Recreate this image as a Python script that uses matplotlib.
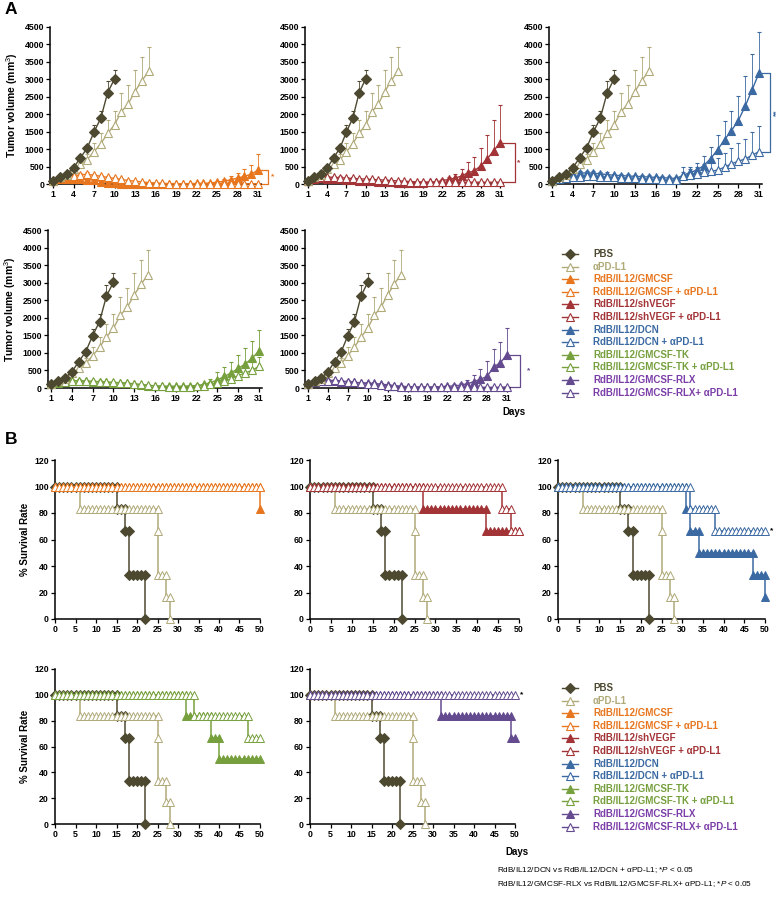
import matplotlib
matplotlib.use('Agg')
import matplotlib.pyplot as plt
from matplotlib.lines import Line2D
import numpy as np

plt.rcParams['font.family'] = ['Liberation Sans', 'DejaVu Sans']
plt.rcParams['mathtext.fontset'] = 'custom'
plt.rcParams['mathtext.rm'] = 'Liberation Sans'
plt.rcParams['mathtext.it'] = 'Liberation Sans:italic'

# ---------------- data : tumor volume (panel A) ----------------
days_pbs = list(range(1, 11))
pbs_vol = [100, 210, 290, 460, 750, 1030, 1490, 1890, 2620, 3010]
pbs_err = [20, 30, 40, 60, 90, 90, 190, 210, 320, 270]

days_pdl1 = list(range(1, 16))
pdl1_vol = [100, 190, 270, 420, 560, 700, 920, 1160, 1450, 1700, 2070, 2300, 2650, 2960, 3230]
pdl1_err = [20, 30, 50, 70, 100, 150, 250, 290, 380, 400, 530, 550, 620, 690, 700]

days_tx = list(range(1, 32))
gm_vol = [100, 140, 150, 140, 130, 120, 110, 70, 40, 20, 10, 5, 5, 5, 5, 5, 5, 5, 5, 5,
          10, 15, 20, 30, 50, 80, 120, 170, 220, 280, 400]
gm_err = [20, 30, 30, 30, 30, 30, 30, 20, 10, 10, 5, 5, 5, 5, 5, 5, 5, 5, 5, 5,
          5, 10, 15, 20, 40, 60, 100, 150, 210, 270, 460]
gmp_vol = [100, 180, 220, 240, 260, 280, 250, 220, 190, 160, 130, 100, 80, 60, 40, 30, 20, 10, 10, 5,
           5, 5, 5, 5, 5, 5, 5, 5, 5, 5, 10]
gmp_err = [20, 30, 40, 40, 50, 50, 50, 40, 40, 30, 30, 20, 20, 10, 10, 10, 5, 5, 5, 5,
           5, 5, 5, 5, 5, 5, 5, 5, 5, 5, 10]

sh_vol = [100, 150, 160, 150, 140, 130, 120, 110, 100, 90, 80, 70, 60, 50, 40, 40, 40, 40, 40, 50,
          60, 100, 130, 170, 230, 320, 380, 520, 720, 950, 1180]
sh_err = [20, 30, 30, 30, 30, 30, 30, 30, 30, 30, 20, 20, 20, 20, 20, 20, 20, 20, 20, 30,
          40, 50, 80, 120, 200, 300, 380, 500, 680, 880, 1090]
shp_vol = [100, 170, 200, 200, 190, 180, 170, 160, 150, 140, 130, 120, 110, 100, 90, 80, 70, 60, 60, 50,
           50, 50, 50, 50, 50, 50, 50, 50, 50, 50, 50]
shp_err = [20, 30, 40, 40, 40, 40, 40, 30, 30, 30, 30, 30, 20, 20, 20, 20, 20, 20, 20, 20,
           20, 20, 20, 20, 20, 20, 20, 20, 20, 20, 20]

dcn_vol = [100, 200, 250, 290, 310, 320, 310, 290, 270, 250, 240, 230, 220, 210, 200, 190, 180, 170, 160, 250,
           330, 400, 530, 730, 980, 1270, 1530, 1820, 2230, 2700, 3180]
dcn_err = [20, 40, 50, 60, 60, 60, 60, 60, 60, 50, 50, 50, 50, 50, 50, 50, 50, 50, 50, 100,
           150, 200, 270, 320, 420, 550, 570, 710, 870, 1020, 1190]
dcnp_vol = [100, 150, 180, 200, 210, 220, 220, 210, 200, 190, 180, 170, 160, 150, 140, 130, 120, 110, 110, 230,
            260, 290, 330, 360, 400, 480, 580, 650, 720, 820, 930]
dcnp_err = [20, 30, 40, 40, 40, 40, 40, 40, 40, 40, 40, 40, 40, 40, 40, 40, 40, 40, 40, 250,
            180, 200, 250, 300, 350, 400, 450, 520, 580, 660, 720]

tk_vol = [100, 150, 200, 210, 200, 190, 180, 170, 160, 150, 140, 130, 110, 90, 70, 60, 50, 50, 50, 50,
          60, 70, 100, 150, 230, 330, 430, 560, 680, 850, 1050]
tk_err = [20, 30, 40, 40, 40, 40, 40, 40, 40, 30, 30, 30, 30, 20, 20, 20, 20, 20, 20, 20,
          20, 30, 50, 100, 220, 270, 320, 370, 450, 500, 590]
tkp_vol = [100, 160, 180, 200, 210, 200, 190, 180, 170, 160, 150, 140, 120, 100, 80, 60, 50, 40, 40, 40,
           40, 50, 70, 100, 150, 200, 260, 350, 430, 500, 620]
tkp_err = [20, 30, 40, 40, 40, 40, 40, 40, 40, 30, 30, 30, 30, 20, 20, 20, 20, 20, 20, 20,
           20, 30, 40, 60, 80, 100, 130, 160, 200, 230, 260]

rlx_vol = [100, 200, 210, 200, 190, 180, 170, 160, 150, 140, 130, 110, 90, 70, 50, 40, 30, 30, 30, 30,
           40, 50, 60, 80, 120, 180, 250, 330, 600, 720, 950]
rlx_err = [20, 30, 40, 40, 40, 40, 40, 40, 30, 30, 30, 30, 20, 20, 20, 20, 20, 20, 20, 20,
           20, 30, 40, 60, 100, 200, 300, 430, 500, 580, 750]
rlxp_vol = [100, 170, 200, 210, 220, 200, 180, 160, 140, 120, 100, 80, 60, 50, 40, 30, 20, 20, 20, 20,
            20, 20, 20, 20, 20, 20, 20, 20, 20, 20, 30]
rlxp_err = [20, 30, 40, 40, 40, 40, 40, 30, 30, 30, 30, 20, 20, 20, 20, 10, 10, 10, 10, 10,
            10, 10, 10, 10, 10, 10, 10, 10, 10, 10, 20]

tumor_xticks = [1, 4, 7, 10, 13, 16, 19, 22, 25, 28, 31]
tumor_yticks = [0, 500, 1000, 1500, 2000, 2500, 3000, 3500, 4000, 4500]

# ---------------- data : survival (panel B) ----------------
# (days at which survival drops, successive survival levels %, last day observed)
surv_pbs = ([15, 17, 18, 22], [100, 83.3, 66.7, 33.3, 0], 22)
surv_pdl1 = ([6, 25, 25, 27, 28], [100, 83.3, 66.7, 33.3, 16.7, 0], 28)
surv_gm = ([50], [100, 83.3], 50)
surv_gmp = ([], [100], 50)
surv_sh = ([27, 42], [100, 83.3, 66.7], 50)
surv_shp = ([46, 48], [100, 83.3, 66.7], 50)
surv_dcn = ([31, 32, 34, 47, 50], [100, 83.3, 66.7, 50, 33.3, 16.7], 50)
surv_dcnp = ([32, 38], [100, 83.3, 66.7], 50)
surv_tk = ([32, 38, 40], [100, 83.3, 66.7, 50], 50)
surv_tkp = ([34, 47], [100, 83.3, 66.7], 50)
surv_rlx = ([32, 49], [100, 83.3, 66.7], 50)
surv_rlxp = ([], [100], 50)

surv_xticks = [0, 5, 10, 15, 20, 25, 30, 35, 40, 45, 50]
surv_yticks = [0, 20, 40, 60, 80, 100, 120]

legend_labels = ['PBS', 'αPD-L1', 'RdB/IL12/GMCSF', 'RdB/IL12/GMCSF + αPD-L1',
                 'RdB/IL12/shVEGF', 'RdB/IL12/shVEGF + αPD-L1', 'RdB/IL12/DCN',
                 'RdB/IL12/DCN + αPD-L1', 'RdB/IL12/GMCSF-TK', 'RdB/IL12/GMCSF-TK + αPD-L1',
                 'RdB/IL12/GMCSF-RLX', 'RdB/IL12/GMCSF-RLX+ αPD-L1']

footnotes = ['RdB/IL12/DCN vs RdB/IL12/DCN + αPD-L1; *$\\it{P}$ < 0.05',
             'RdB/IL12/GMCSF-RLX vs RdB/IL12/GMCSF-RLX+ αPD-L1; *$\\it{P}$ < 0.05']

# ---------------- styles ----------------
C_PBS = '#4d4930'
C_PDL1 = '#b0a978'
C_GM = '#e8761e'
C_SH = '#a23336'
C_DCN = '#3b69a2'
C_TK = '#76a03d'
C_RLX = '#644a8e'
TXT_RLX = '#7b3ea8'

legend_colors = [C_PBS, C_PDL1, C_GM, C_GM, C_SH, C_SH, C_DCN, C_DCN, C_TK, C_TK, C_RLX, C_RLX]
legend_text_colors = [C_PBS, C_PDL1, C_GM, C_GM, C_SH, C_SH, C_DCN, C_DCN, C_TK, C_TK, TXT_RLX, TXT_RLX]
legend_markers = ['D', '^'] + ['^'] * 10
legend_filled = [True, False] + [True, False] * 5

W, H = 778, 902
fig = plt.figure(figsize=(W / 100, H / 100), dpi=100)


def add_ax(left, right, top, bottom):
    return fig.add_axes([left / W, 1 - bottom / H, (right - left) / W, (bottom - top) / H])


def style_ax(ax, xticks, yticks):
    for s in ['top', 'right']:
        ax.spines[s].set_visible(False)
    for s in ['left', 'bottom']:
        ax.spines[s].set_linewidth(1.1)
    ax.set_xticks(xticks)
    ax.set_yticks(yticks)
    ax.tick_params(axis='both', length=3, width=0.9, pad=1.5, labelsize=6.3)
    for lab in ax.get_xticklabels() + ax.get_yticklabels():
        lab.set_fontweight('bold')


def tumor_line(ax, days, vals, errs, color, filled, marker='^', ms=6.0):
    ax.errorbar(days, vals, yerr=[np.zeros(len(errs)), errs], color=color, lw=1.0,
                elinewidth=0.6, capsize=1.3, capthick=0.6, marker=marker, ms=ms,
                mfc=color if filled else 'white', mec=color, mew=0.8, clip_on=False, zorder=3)


def bracket(ax, x0, x1, ytop, ybot, color, label, xs, rot=0, fs=6):
    ax.plot([x0, x1, x1, x0], [ytop, ytop, ybot, ybot], color=color, lw=0.9, clip_on=False)
    ax.text(xs, (ytop + ybot) / 2, label, color=color, fontsize=fs, fontweight='bold',
            ha='center', va='center', rotation=rot, clip_on=False)


def tumor_axes(p1, p31, top, bottom):
    s = (p31 - p1) / 30.0
    ax = add_ax(p1 - 0.4 * s, p31 + 0.5 * s, top, bottom)
    ax.set_xlim(0.6, 31.5)
    ax.set_ylim(0, 4500)
    style_ax(ax, tumor_xticks, tumor_yticks)
    return ax


def tumor_panel(ax, filled_vals, filled_err, open_vals, open_err, color):
    tumor_line(ax, days_tx, filled_vals, filled_err, color, True)
    tumor_line(ax, days_tx, open_vals, open_err, color, False)
    tumor_line(ax, days_pdl1, pdl1_vol, pdl1_err, C_PDL1, False)
    tumor_line(ax, days_pbs, pbs_vol, pbs_err, C_PBS, True, marker='D', ms=5.5)


# ---- panel A ----
a1 = tumor_axes(53, 258, 27, 184)
tumor_panel(a1, gm_vol, gm_err, gmp_vol, gmp_err, C_GM)
bracket(a1, 31.4, 32.5, gm_vol[-1], gmp_vol[-1], C_GM, '*', 33.2)

a2 = tumor_axes(308, 500, 27, 184)
tumor_panel(a2, sh_vol, sh_err, shp_vol, shp_err, C_SH)
bracket(a2, 31.5, 33.3, sh_vol[-1], shp_vol[-1], C_SH, '*', 33.9)

a3 = tumor_axes(552, 759, 27, 184)
tumor_panel(a3, dcn_vol, dcn_err, dcnp_vol, dcnp_err, C_DCN)
bracket(a3, 31.5, 32.6, dcn_vol[-1], dcnp_vol[-1], C_DCN, '**', 33.5, rot=90)

a4 = tumor_axes(51, 259, 230, 388)
tumor_panel(a4, tk_vol, tk_err, tkp_vol, tkp_err, C_TK)

a5 = tumor_axes(308, 507, 230, 388)
tumor_panel(a5, rlx_vol, rlx_err, rlxp_vol, rlxp_err, C_RLX)
bracket(a5, 31.5, 33.0, rlx_vol[-1], rlxp_vol[-1], C_RLX, '*', 34.2)

for ax in (a1, a4):
    ax.set_ylabel('Tumor volume (mm$^3$)', fontsize=7.5, fontweight='bold', labelpad=3)

fig.text(514 / W, 1 - 412 / H, 'Days', fontsize=7, fontweight='bold', ha='center', va='center')
fig.text(11 / W, 1 - 9 / H, 'A', fontsize=12.5, fontweight='bold', ha='center', va='center')
fig.text(11 / W, 1 - 439 / H, 'B', fontsize=12.5, fontweight='bold', ha='center', va='center')


# ---- panel B ----
def km_points(curve):
    drops, levels, end = curve
    xs, ys = [], []
    li = 0
    for d in range(0, end + 1):
        xs.append(d)
        ys.append(levels[li])
        while li < len(drops) and drops[li] == d:
            li += 1
            xs.append(d)
            ys.append(levels[li])
    return xs, ys


def surv_line(ax, curve, color, filled, marker='^', ms=5.5):
    xs, ys = km_points(curve)
    ax.plot(xs, ys, color=color, lw=1.1, marker=marker, ms=ms,
            mfc=color if filled else 'white', mec=color, mew=0.7, clip_on=False, zorder=3)


def surv_axes(left, right, top, bottom):
    ax = add_ax(left, right, top, bottom)
    ax.set_xlim(0, 50)
    ax.set_ylim(0, 120)
    style_ax(ax, surv_xticks, surv_yticks)
    return ax


def surv_panel(ax, cf, co, color):
    surv_line(ax, surv_pbs, C_PBS, True, marker='D', ms=5)
    surv_line(ax, surv_pdl1, C_PDL1, False)
    surv_line(ax, cf, color, True)
    surv_line(ax, co, color, False)


b1 = surv_axes(55, 260, 460, 619)
surv_panel(b1, surv_gm, surv_gmp, C_GM)
b2 = surv_axes(310, 519, 460, 619)
surv_panel(b2, surv_sh, surv_shp, C_SH)
b3 = surv_axes(558, 765, 460, 619)
surv_panel(b3, surv_dcn, surv_dcnp, C_DCN)
b3.text(51.6, surv_dcnp[1][-1], '*', fontsize=6, fontweight='bold', ha='center', va='center')
b4 = surv_axes(55, 260, 669, 824)
surv_panel(b4, surv_tk, surv_tkp, C_TK)
b5 = surv_axes(310, 515, 669, 824)
surv_panel(b5, surv_rlx, surv_rlxp, C_RLX)
b5.text(51.6, surv_rlxp[1][-1], '*', fontsize=6, fontweight='bold', ha='center', va='center')

for ax in (b1, b4):
    ax.set_ylabel('% Survival Rate', fontsize=7, fontweight='bold', labelpad=3)

fig.text(517 / W, 1 - 852 / H, 'Days', fontsize=7, fontweight='bold', ha='center', va='center')


# ---- legends ----
def draw_legend(y0):
    for i, lab in enumerate(legend_labels):
        y = 1 - (y0 + i * 12.6) / H
        fig.add_artist(Line2D([562 / W, 578 / W], [y, y], color=legend_colors[i], lw=1.0))
        fig.add_artist(Line2D([570 / W], [y], marker=legend_markers[i], ms=5.5, color=legend_colors[i],
                              mfc=legend_colors[i] if legend_filled[i] else 'white',
                              mec=legend_colors[i], mew=0.8))
        fig.text(593 / W, y, lab, color=legend_text_colors[i], fontsize=7, fontweight='bold',
                 ha='left', va='center')


draw_legend(254)
draw_legend(688)

for i, note in enumerate(footnotes):
    fig.text(497 / W, 1 - (870 + i * 14) / H, note, fontsize=5.9, ha='left', va='center')

fig.savefig('out.png', dpi=100)
